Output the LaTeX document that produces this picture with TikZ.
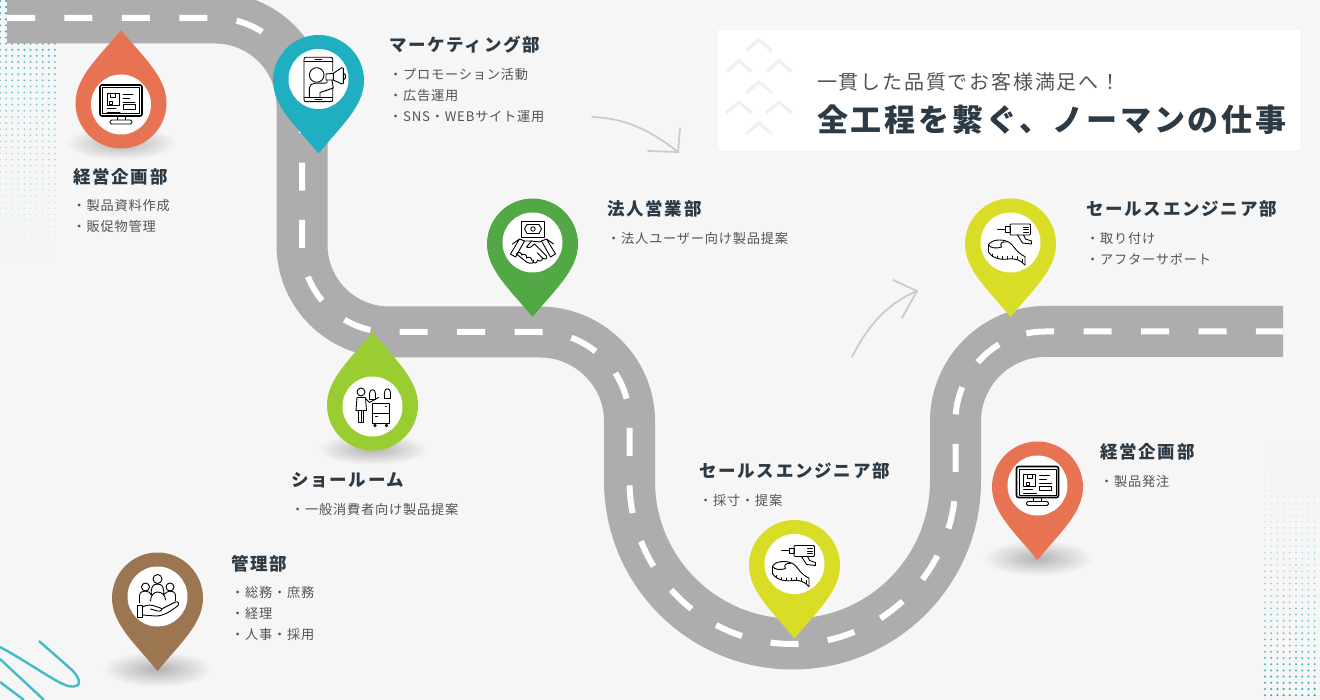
\documentclass[tikz,border=0pt]{standalone}
\usepackage{fontspec}
\setmainfont{Noto Sans CJK JP}
\newfontfamily\jpspaced[LetterSpace=6]{Noto Sans CJK JP}
\newfontfamily\jptitle[LetterSpace=10]{Noto Sans CJK JP}
\newfontfamily\jpbanner[LetterSpace=9]{Noto Sans CJK JP}
\definecolor{bgcol}{HTML}{F6F6F6}
\definecolor{roadcol}{HTML}{ADADAD}
\definecolor{inkcol}{HTML}{2C3A45}
\definecolor{listcol}{HTML}{505458}
\definecolor{dotcol}{HTML}{2BA9B5}
\definecolor{pinorange}{HTML}{E87352}
\definecolor{pinteal}{HTML}{20AFC0}
\definecolor{pingreen}{HTML}{52A845}
\definecolor{pinlime}{HTML}{9ACD32}
\definecolor{pinyellow}{HTML}{DADD26}
\definecolor{pinbrown}{HTML}{9C7650}
\tikzstyle{road} = [line width=51pt, draw=roadcol]
\tikzstyle{roadline} = [draw=white, line width=6pt, dash pattern=on 28pt off 29.45pt]
\tikzstyle{titletext} = [anchor=west, inner sep=0pt, text=inkcol, font=\jptitle\bfseries\fontsize{17.5}{20}\selectfont]
\tikzstyle{listtext} = [anchor=north west, inner sep=0pt, align=left, text=listcol, font=\jpspaced\fontsize{13.2}{21}\selectfont]
\tikzstyle{sketch} = [draw=black!20, line width=1.8pt, line cap=round]
\tikzstyle{chevron} = [draw=black!6, line width=3.2pt]
\tikzstyle{pinshadow} = [inner color=black!30, outer color=bgcol]
\tikzstyle{scribble} = [draw=pinteal!85!white, line width=2.4pt]
\tikzstyle{iconline} = [draw=black, line width=0.9pt, line join=round, line cap=round]
\tikzset{
  pinmark/.pic={
    \path[pic actions] (0,73) .. controls (-22,46) and (-45.5,26) .. (-45.5,0)
      .. controls (-45.5,-25.1) and (-25.1,-45.5) .. (0,-45.5)
      .. controls (25.1,-45.5) and (45.5,-25.1) .. (45.5,0)
      .. controls (45.5,26) and (22,46) .. (0,73) -- cycle;
    \fill[white] (0,-1.5) circle (30pt);
  },
  iconmonitor/.pic={
    \draw[iconline, line width=1.6pt, rounded corners=2pt] (-21,-19) rectangle (21,12);
    \draw[iconline] (-18.5,-16.5) rectangle (18.5,9.5);
    \draw[iconline] (-4,12) -- (-4,16) (4,12) -- (4,16);
    \draw[iconline, rounded corners=1.5pt] (-11,16) rectangle (11,20);
    \draw[iconline] (-14,-11) rectangle (-2,1) (-10.5,-11) -- (-10.5,-7) -- (-5.5,-7) -- (-5.5,-11) (-11.5,-3) rectangle (-8.5,0);
    \draw[iconline] (2,-10) -- (12,-10) (2,-6) -- (9,-6) (2,-2) -- (14,-2);
    \draw[iconline] (2,0.5) rectangle (14,5);
    \draw[iconline] (-14,4) -- (-5,4) (-14,8) -- (-1,8);
  },
  iconphone/.pic={
    \draw[iconline, rounded corners=2pt] (13.7,-8) -- (13.7,-21.7) -- (-15,-21.7) -- (-15,22.7) -- (13.7,22.7) -- (13.7,9);
    \draw[iconline] (-15,-17.3) -- (13.7,-17.3) (-15,18.3) -- (13.7,18.3) (-4,-19.5) -- (3,-19.5) (-4,20.5) -- (3,20.5);
    \draw[iconline] (-2.3,-4) circle (7.3);
    \draw[iconline] (-9.7,18.3) -- (-9.7,9) .. controls (-9.7,6) and (-7,4.3) .. (-4,4.3) -- (8,4) -- (8,1) (13,1) -- (14.3,9) -- (1,13.5) -- (1,18.3);
    \draw[iconline] (7,-5) -- (14.3,-5.7) -- (22.7,-11.3) -- (24.3,-10.7) -- (24.3,4.3) -- (22.7,5) -- (14.3,1) -- (7,1) -- cycle;
    \draw[iconline] (14.3,-5.7) -- (14.3,1) (24.3,-6) -- (26.5,-4) -- (26.5,-1) -- (24.3,1);
  },
  iconshake/.pic={
    \draw[iconline] (-11,-23) rectangle (12,-7);
    \draw[iconline] (-8,-15) -- (-5.5,-19.5) -- (6.5,-19.5) -- (9,-15) -- (6.5,-10.5) -- (-5.5,-10.5) -- cycle;
    \draw[iconline] (0.5,-15) circle (2.2);
    \draw[iconline] (-20,0) -- (-13,-5) -- (-8,-3) -- (-17,13) -- (-22,10) -- (-13,-5);
    \draw[iconline] (21,0) -- (14,-5) -- (9,-3) -- (18,13) -- (23,10) -- (14,-5);
    \draw[iconline] (-8,-3) -- (-1,-3) -- (7,-2) -- (9,-3);
    \draw[iconline] (-1,-3) -- (-6,3) .. controls (-3,5) and (0,2) .. (2,0) -- (14,12);
    \draw[iconline] (14,12) .. controls (15,15) and (12,16) .. (10,14) -- (5,9) (10,14) .. controls (10,17) and (7,18) .. (5,16) (5,16) .. controls (5,19) and (2,20) .. (0,18);
    \draw[iconline] (-16,10) .. controls (-14,7) and (-10,9) .. (-11,11) .. controls (-9,9) and (-5,11) .. (-6,14) .. controls (-4,12) and (0,14) .. (-1,16) .. controls (0,15) and (3,17) .. (0,19) .. controls (-2,20) and (-4,19) .. (-6,18) -- (-16,10);
  },
  iconshop/.pic={
    \draw[iconline] (-11.5,-13.5) circle (4);
    \draw[iconline] (-15.5,-8) -- (-7,-8) -- (-6,5) -- (-16.5,5) -- cycle;
    \draw[iconline] (-14,5) -- (-14,17) -- (-9,17) -- (-9,5) (-11.5,5) -- (-11.5,17);
    \draw[iconline] (-7,-7) -- (-3,-3) -- (6,-8);
    \draw[iconline] (-0.5,-2) rectangle (17,18);
    \draw[iconline] (-0.5,8) -- (17,8) (13,1) -- (14,1) (3,11) -- (5,11);
    \draw[iconline] (2.5,20) circle (1.2) (14,20) circle (1.2);
    \draw[iconline] (-3,-6) -- (-3,-12) .. controls (-3,-17) and (3,-17) .. (3,-12) -- (3,-6) -- cycle;
    \draw[iconline] (12,-7) -- (12,-13) .. controls (12,-18) and (18,-18) .. (18,-13) -- (18,-7) -- cycle;
  },
  icondrill/.pic={
    \draw[iconline] (-13,-15) -- (-5.5,-15);
    \draw[iconline] (-5.5,-17.5) rectangle (-0.5,-12);
    \draw[iconline, rounded corners=1pt] (-0.5,-20) -- (20,-20) -- (20,-9) -- (-0.5,-9) -- cycle;
    \draw[iconline] (7,-9) -- (12,-1) -- (21,0) -- (21,-3) -- (15,-5) -- (13,-9);
    \draw[iconline] (13,-17) -- (18,-17) (13,-14.5) -- (18,-14.5) (13,-12) -- (18,-12);
    \draw[iconline] (-22,1) .. controls (-20,-4) and (-9,-6) .. (-1,-1.5) .. controls (3,1) and (5,8) .. (14.5,12.7) -- (14.5,21);
    \draw[iconline] (-22,1) .. controls (-20,4) and (-14,5) .. (-9,3) .. controls (-11,0) and (-9,-3) .. (-4,-2);
    \draw[iconline] (-22,1) -- (-22,8) .. controls (-18,15) and (-8,16) .. (-2,15) .. controls (4,14) and (10,16) .. (14.5,21);
    \draw[iconline] (-18,10) -- (-18,12.5) (-13,12) -- (-13,14.5) (-8,12.5) -- (-8,15) (-3,12.5) -- (-3,15) (2,12) -- (2,14.5) (7,12.5) -- (7,15) (12,15) -- (12,18);
  },
  iconteam/.pic={
    \draw[iconline] (0,-19) circle (4.5);
    \draw[iconline] (-12,-11) circle (4);
    \draw[iconline] (12.5,-11) circle (4);
    \draw[iconline] (-6,-3) .. controls (-7,-10) and (-5,-14) .. (0,-14) .. controls (5,-14) and (7,-10) .. (6,-3);
    \draw[iconline] (-18,5) -- (-18,-2) .. controls (-18,-6) and (-15,-7) .. (-12,-7) .. controls (-9,-7) and (-7,-5) .. (-6,-3);
    \draw[iconline] (18,3) -- (18,-2) .. controls (18,-6) and (15,-7) .. (12.5,-7) .. controls (10,-7) and (8,-5) .. (6,-3);
    \draw[iconline] (-7,3) .. controls (-7,-3) and (-3,-6) .. (0,-6) .. controls (4,-6) and (8,-3) .. (8,2);
    \draw[iconline] (-20,7) rectangle (-15,19);
    \draw[iconline] (-15,9) .. controls (-10,6) and (-5,7) .. (0,9) -- (3,10) .. controls (6,11) and (4,14) .. (0,13) -- (-7,11);
    \draw[iconline] (4,11) -- (18,4) .. controls (21,3) and (22,6) .. (20,8) .. controls (12,14) and (6,18) .. (-2,18) -- (-15,17);
  }
}

\begin{document}
\begin{tikzpicture}[x=1pt, y=-1pt]

\fill[bgcol] (0,0) rectangle (1320,700);
\useasboundingbox (0,0) rectangle (1320,700);

% halftone corners
\foreach \i in {0,...,9} {
  \foreach \j in {0,...,43} {
    \pgfmathsetmacro{\dotop}{max(0.08,1-\j/44)}
    \pgfmathsetmacro{\dotr}{1.25-0.7*\j/44}
    \fill[dotcol, opacity=\dotop] ({\i*6.1},{1+\j*6.1}) circle (\dotr pt);
  }
}
\foreach \i in {0,...,9} {
  \foreach \j in {0,...,42} {
    \pgfmathsetmacro{\dotop}{max(0.08,\j/42)}
    \pgfmathsetmacro{\dotr}{0.5+0.7*\j/42}
    \fill[dotcol, opacity=\dotop] ({1265+\i*6.2},{441+\j*6.2}) circle (\dotr pt);
  }
}

% scribble
\draw[scribble] (0,647) .. controls (28,662) and (55,682) .. (68,686) .. controls (84,689) and (80,678) .. (72,670) -- (39,641);
\draw[scribble] (0,659) -- (44,700);
\draw[scribble] (0,682) -- (24,700);

% road
\draw[road, postaction={roadline}] (7,18) -- (215,18) .. controls (263,18) and (302,57) .. (302,105) -- (302,245)
  .. controls (302,293) and (341,332) .. (389,332) -- (540,332)
  .. controls (589,332) and (629.5,372) .. (629.5,421) -- (629.5,481)
  .. controls (629.5,571) and (702.5,644) .. (792.5,644)
  .. controls (882.5,644) and (955.5,571) .. (955.5,481) -- (955.5,421)
  .. controls (955.5,372) and (996,331.5) .. (1045,331.5) -- (1283,331.5);

% banner
\fill[white] (718,30) rectangle (1300,150);
\foreach \cx/\cy in {759/40, 739/61, 779/61, 759/82, 739/102, 779/102, 759/123}
  \draw[chevron] (\cx-13,\cy+11) -- (\cx,\cy) -- (\cx+13,\cy+11);
\node (lead) [anchor=west, inner sep=0pt, text=listcol, font=\jpbanner\fontsize{20}{22}\selectfont] at (817,82) {一貫した品質でお客様満足へ！};
\node (head) [anchor=west, inner sep=0pt, text=inkcol, font=\jpbanner\bfseries\fontsize{31}{34}\selectfont] at (817,120) {全工程を繋ぐ、ノーマンの仕事};

% sketched arrows
\coordinate (a1s) at (592,117);
\coordinate (a1e) at (678,152);
\coordinate (a1l) at (648,151);
\coordinate (a1r) at (680,128);
\coordinate (a2s) at (852,357);
\coordinate (a2e) at (917,291);
\coordinate (a2l) at (893,280);
\coordinate (a2r) at (902,318);
\draw[sketch] (a1s) .. controls (625,118) and (650,130) .. (a1e);
\draw[sketch] (a1l) -- (a1e) -- (a1r);
\draw[sketch] (a2s) .. controls (868,325) and (888,303) .. (a2e);
\draw[sketch] (a2l) -- (a2e) -- (a2r);

% shadows
\shade[pinshadow] (121,143) ellipse (56pt and 17pt);
\shade[pinshadow] (372.5,449) ellipse (56pt and 16pt);
\shade[pinshadow] (1037.5,558) ellipse (56pt and 18pt);
\shade[pinshadow] (157.5,669) ellipse (56pt and 18pt);

% pins
\pic[fill=pinorange, yscale=-1] at (121,103) {pinmark};
\pic[fill=pinteal] at (318.5,80.5) {pinmark};
\pic[fill=pingreen] at (532.5,244) {pinmark};
\pic[fill=pinyellow] at (1010.5,244) {pinmark};
\pic[fill=pinlime, yscale=-1] at (372.5,405) {pinmark};
\pic[fill=pinyellow] at (794.5,565.5) {pinmark};
\pic[fill=pinorange] at (1037.5,487) {pinmark};
\pic[fill=pinbrown] at (157.5,598) {pinmark};

% icons
\pic at (121,104) {iconmonitor};
\pic at (319,79) {iconphone};
\pic at (532.5,244) {iconshake};
\pic at (1010.5,244) {icondrill};
\pic at (372.5,405.5) {iconshop};
\pic at (794.5,565.5) {icondrill};
\pic at (1037.5,485.5) {iconmonitor};
\pic at (157.5,598) {iconteam};

% labels
\node (keiei) [titletext] at (73,176.5) {経営企画部};
\node (keieil) [listtext] at (72.5,199.5) {・製品資料作成\\・販促物管理};
\node (mkt) [titletext] at (389,44.5) {マーケティング部};
\node (mktl) [listtext] at (389,68) {・プロモーション活動\\・広告運用\\・SNS・WEBサイト運用};
\node (hojin) [titletext] at (607,208.5) {法人営業部};
\node (hojinl) [listtext] at (607,232) {・法人ユーザー向け製品提案};
\node (sales) [titletext] at (1086,208.5) {セールスエンジニア部};
\node (salesl) [listtext] at (1086,232) {・取り付け\\・アフターサポート};
\node (show) [titletext] at (291,480.5) {ショールーム};
\node (showl) [listtext] at (291,503) {・一般消費者向け製品提案};
\node (salesb) [titletext] at (699,470.5) {セールスエンジニア部};
\node (salesbl) [listtext] at (699,494) {・採寸・提案};
\node (kanri) [titletext] at (231,563.5) {管理部};
\node (kanril) [listtext] at (231,586) {・総務・庶務\\・経理\\・人事・採用};
\node (keieib) [titletext] at (1100,451.5) {経営企画部};
\node (keieibl) [listtext] at (1100,475) {・製品発注};

\end{tikzpicture}
\end{document}
